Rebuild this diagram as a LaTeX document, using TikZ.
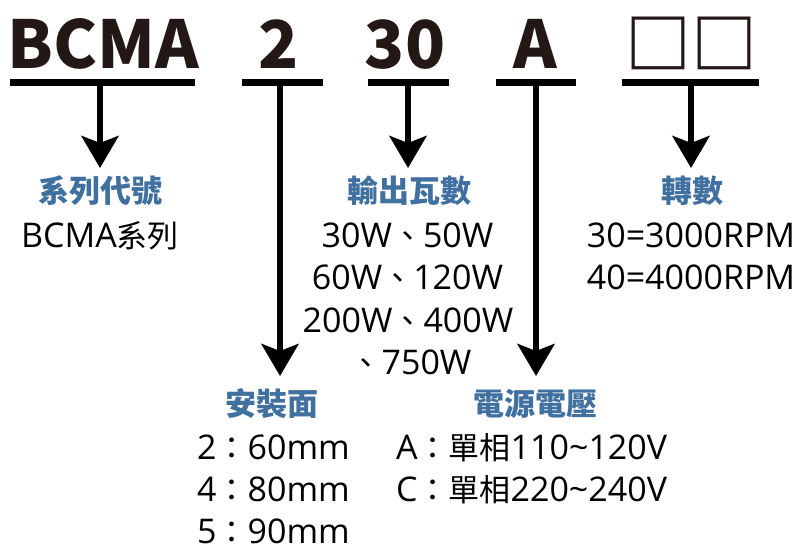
\documentclass[tikz,border=0pt]{standalone}
\usepackage{fontspec}
\setmainfont{Noto Sans CJK TC}
\newfontfamily\latfont{Open Sans}
\newcommand\LL[1]{{\fontsize{34}{34}\latfont #1}}
\usetikzlibrary{arrows.meta}
\definecolor{lblue}{RGB}{64,112,160}
\definecolor{codeblack}{RGB}{35,24,21}
\begin{document}
\begin{tikzpicture}[x=1pt,y=-1pt,
  code/.style={font=\fontsize{66}{66}\selectfont\bfseries, text=codeblack, anchor=base, inner sep=0},
  barnode/.style={fill=black, inner sep=0, minimum height=7pt},
  conn/.style={line width=6pt, -{Stealth[length=32pt,width=37pt,inset=7pt]}},
  title/.style={font=\fontsize{31}{31}\selectfont\bfseries, text=lblue, inner sep=0, anchor=base},
  body/.style={font=\fontsize{31}{31}\selectfont, inner sep=0, anchor=base, text depth=0pt},
  bodyw/.style={body, anchor=base west},
]
\useasboundingbox[fill=white] (0,0) rectangle (795,546);
% code letters
\node[code] (cB) at (103.5,68) {BCMA};
\node[code] (c2) at (279,68) {2};
\node[code] (c30) at (405,68) {30};
\node[code] (cA) at (535.5,68) {A};
\node[code] (cX) at (691.5,68) {□□};
% bars
\node[barnode, minimum width=185pt] (b1) at (102.5,82.5) {};
\node[barnode, minimum width=81pt] (b2) at (282.5,82.5) {};
\node[barnode, minimum width=81pt] (b3) at (408.5,82.5) {};
\node[barnode, minimum width=80pt] (b4) at (536,82.5) {};
\node[barnode, minimum width=137pt] (b5) at (690.5,82.5) {};
% arrow tips
\coordinate (t1) at (100,168);
\coordinate (t2) at (280,376);
\coordinate (t3) at (408,168);
\coordinate (t4) at (536,376);
\coordinate (t5) at (691,168);
\draw[conn] (b1.south -| t1) -- (t1);
\draw[conn] (b2.south -| t2) -- (t2);
\draw[conn] (b3.south -| t3) -- (t3);
\draw[conn] (b4.south -| t4) -- (t4);
\draw[conn] (b5.south -| t5) -- (t5);
% titles
\node[title] (h1) at (100,202) {系列代號};
\node[title] (h3) at (409,202) {輸出瓦數};
\node[title] (h5) at (692,202) {轉數};
\node[title] (h2) at (271.5,415) {安裝面};
\node[title] (h4) at (535.5,415) {電源電壓};
% bodies
\node[body] (s1) at (100,247) {\LL{BCMA}系列};
\node[body] (w1) at (407.5,247) {\LL{30W}、\LL{50W}};
\node[body] (w2) at (407.5,289.5) {\LL{60W}、\LL{120W}};
\node[body] (w3) at (408,332) {\LL{200W}、\LL{400W}};
\node[body] (w4) at (411,374.5) {、\LL{750W}};
\node[body] (r1) at (691,247) {\LL{30=3000RPM}};
\node[body] (r2) at (691,289.5) {\LL{40=4000RPM}};
\node[bodyw] (m1) at (197,459) {\LL{2}：\LL{60mm}};
\node[bodyw] (m2) at (197,501.5) {\LL{4}：\LL{80mm}};
\node[bodyw] (m3) at (197,543) {\LL{5}：\LL{90mm}};
\node[bodyw] (v1) at (396,459) {\LL{A}：單相\LL{110\textasciitilde 120V}};
\node[bodyw] (v2) at (396,501.5) {\LL{C}：單相\LL{220\textasciitilde 240V}};
\end{tikzpicture}
\end{document}
